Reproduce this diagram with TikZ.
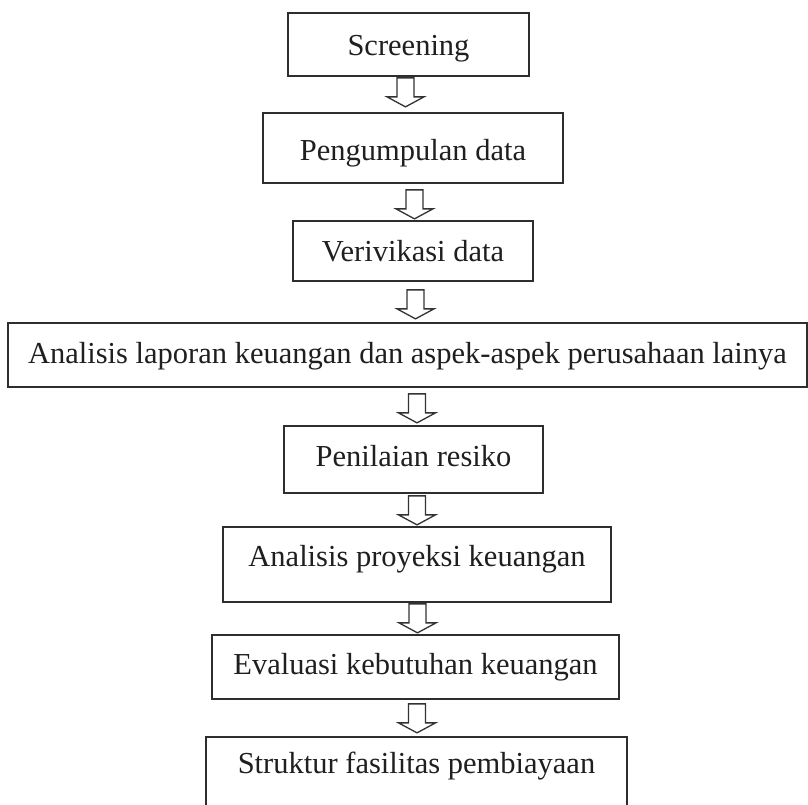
\documentclass[tikz,border=0pt]{standalone}
\usepackage{fontspec}
\setmainfont{Liberation Serif}
\begin{document}
\begin{tikzpicture}[x=1pt,y=-1pt,
  flowbox/.style={draw=black!82, line width=1.7pt, fill=white, inner sep=0pt,
    text height=26pt, font=\fontsize{30.5}{36}\selectfont, text=black!88},
  blockarrow/.pic={
    \draw[line width=1.3pt, draw=black!80, fill=white, line join=miter]
      (-8.5,0) -- (-8.5,19) -- (-18.5,19) -- (0,29) -- (18.5,19) -- (8.5,19) -- (8.5,0) -- cycle;
  }]
\useasboundingbox (0,0) rectangle (808,804);
\clip (0,0) rectangle (808,804);

\node[flowbox, minimum width=241pt, minimum height=63pt, text depth=5pt] (b1) at (408.5,44.5) {Screening};
\node[flowbox, minimum width=300pt, minimum height=70pt, text depth=2pt] (b2) at (413,148) {Pengumpulan data};
\node[flowbox, minimum width=240pt, minimum height=60pt, text depth=4.6pt] (b3) at (413,251) {Verivikasi data};
\node[flowbox, minimum width=799pt, minimum height=64pt, text depth=10pt] (b4) at (407.5,355) {Analisis laporan keuangan dan aspek-aspek perusahaan lainya};
\node[flowbox, minimum width=259pt, minimum height=67pt, text depth=13pt] (b5) at (413.5,459.5) {Penilaian resiko};
\node[flowbox, minimum width=388pt, minimum height=75pt, text depth=21.6pt] (b6) at (417,564.5) {Analisis proyeksi keuangan};
\node[flowbox, minimum width=407pt, minimum height=64pt, text depth=12pt] (b7) at (415.5,667) {Evaluasi kebutuhan keuangan};
\node[flowbox, minimum width=421pt, minimum height=80pt, text depth=34pt] (b8) at (416.5,777) {Struktur fasilitas pembiayaan};

\pic at ([xshift=-3pt,yshift=-1pt]b1.south) {blockarrow};
\pic at ([xshift=1.5pt,yshift=-6pt]b2.south) {blockarrow};
\pic at ([xshift=2.5pt,yshift=-8pt]b3.south) {blockarrow};
\pic at ([xshift=9.5pt,yshift=-6pt]b4.south) {blockarrow};
\pic at ([xshift=3.5pt,yshift=-2pt]b5.south) {blockarrow};
\pic at ([xshift=0.5pt,yshift=-1pt]b6.south) {blockarrow};
\pic at ([xshift=1.5pt,yshift=-4pt]b7.south) {blockarrow};
\end{tikzpicture}
\end{document}
